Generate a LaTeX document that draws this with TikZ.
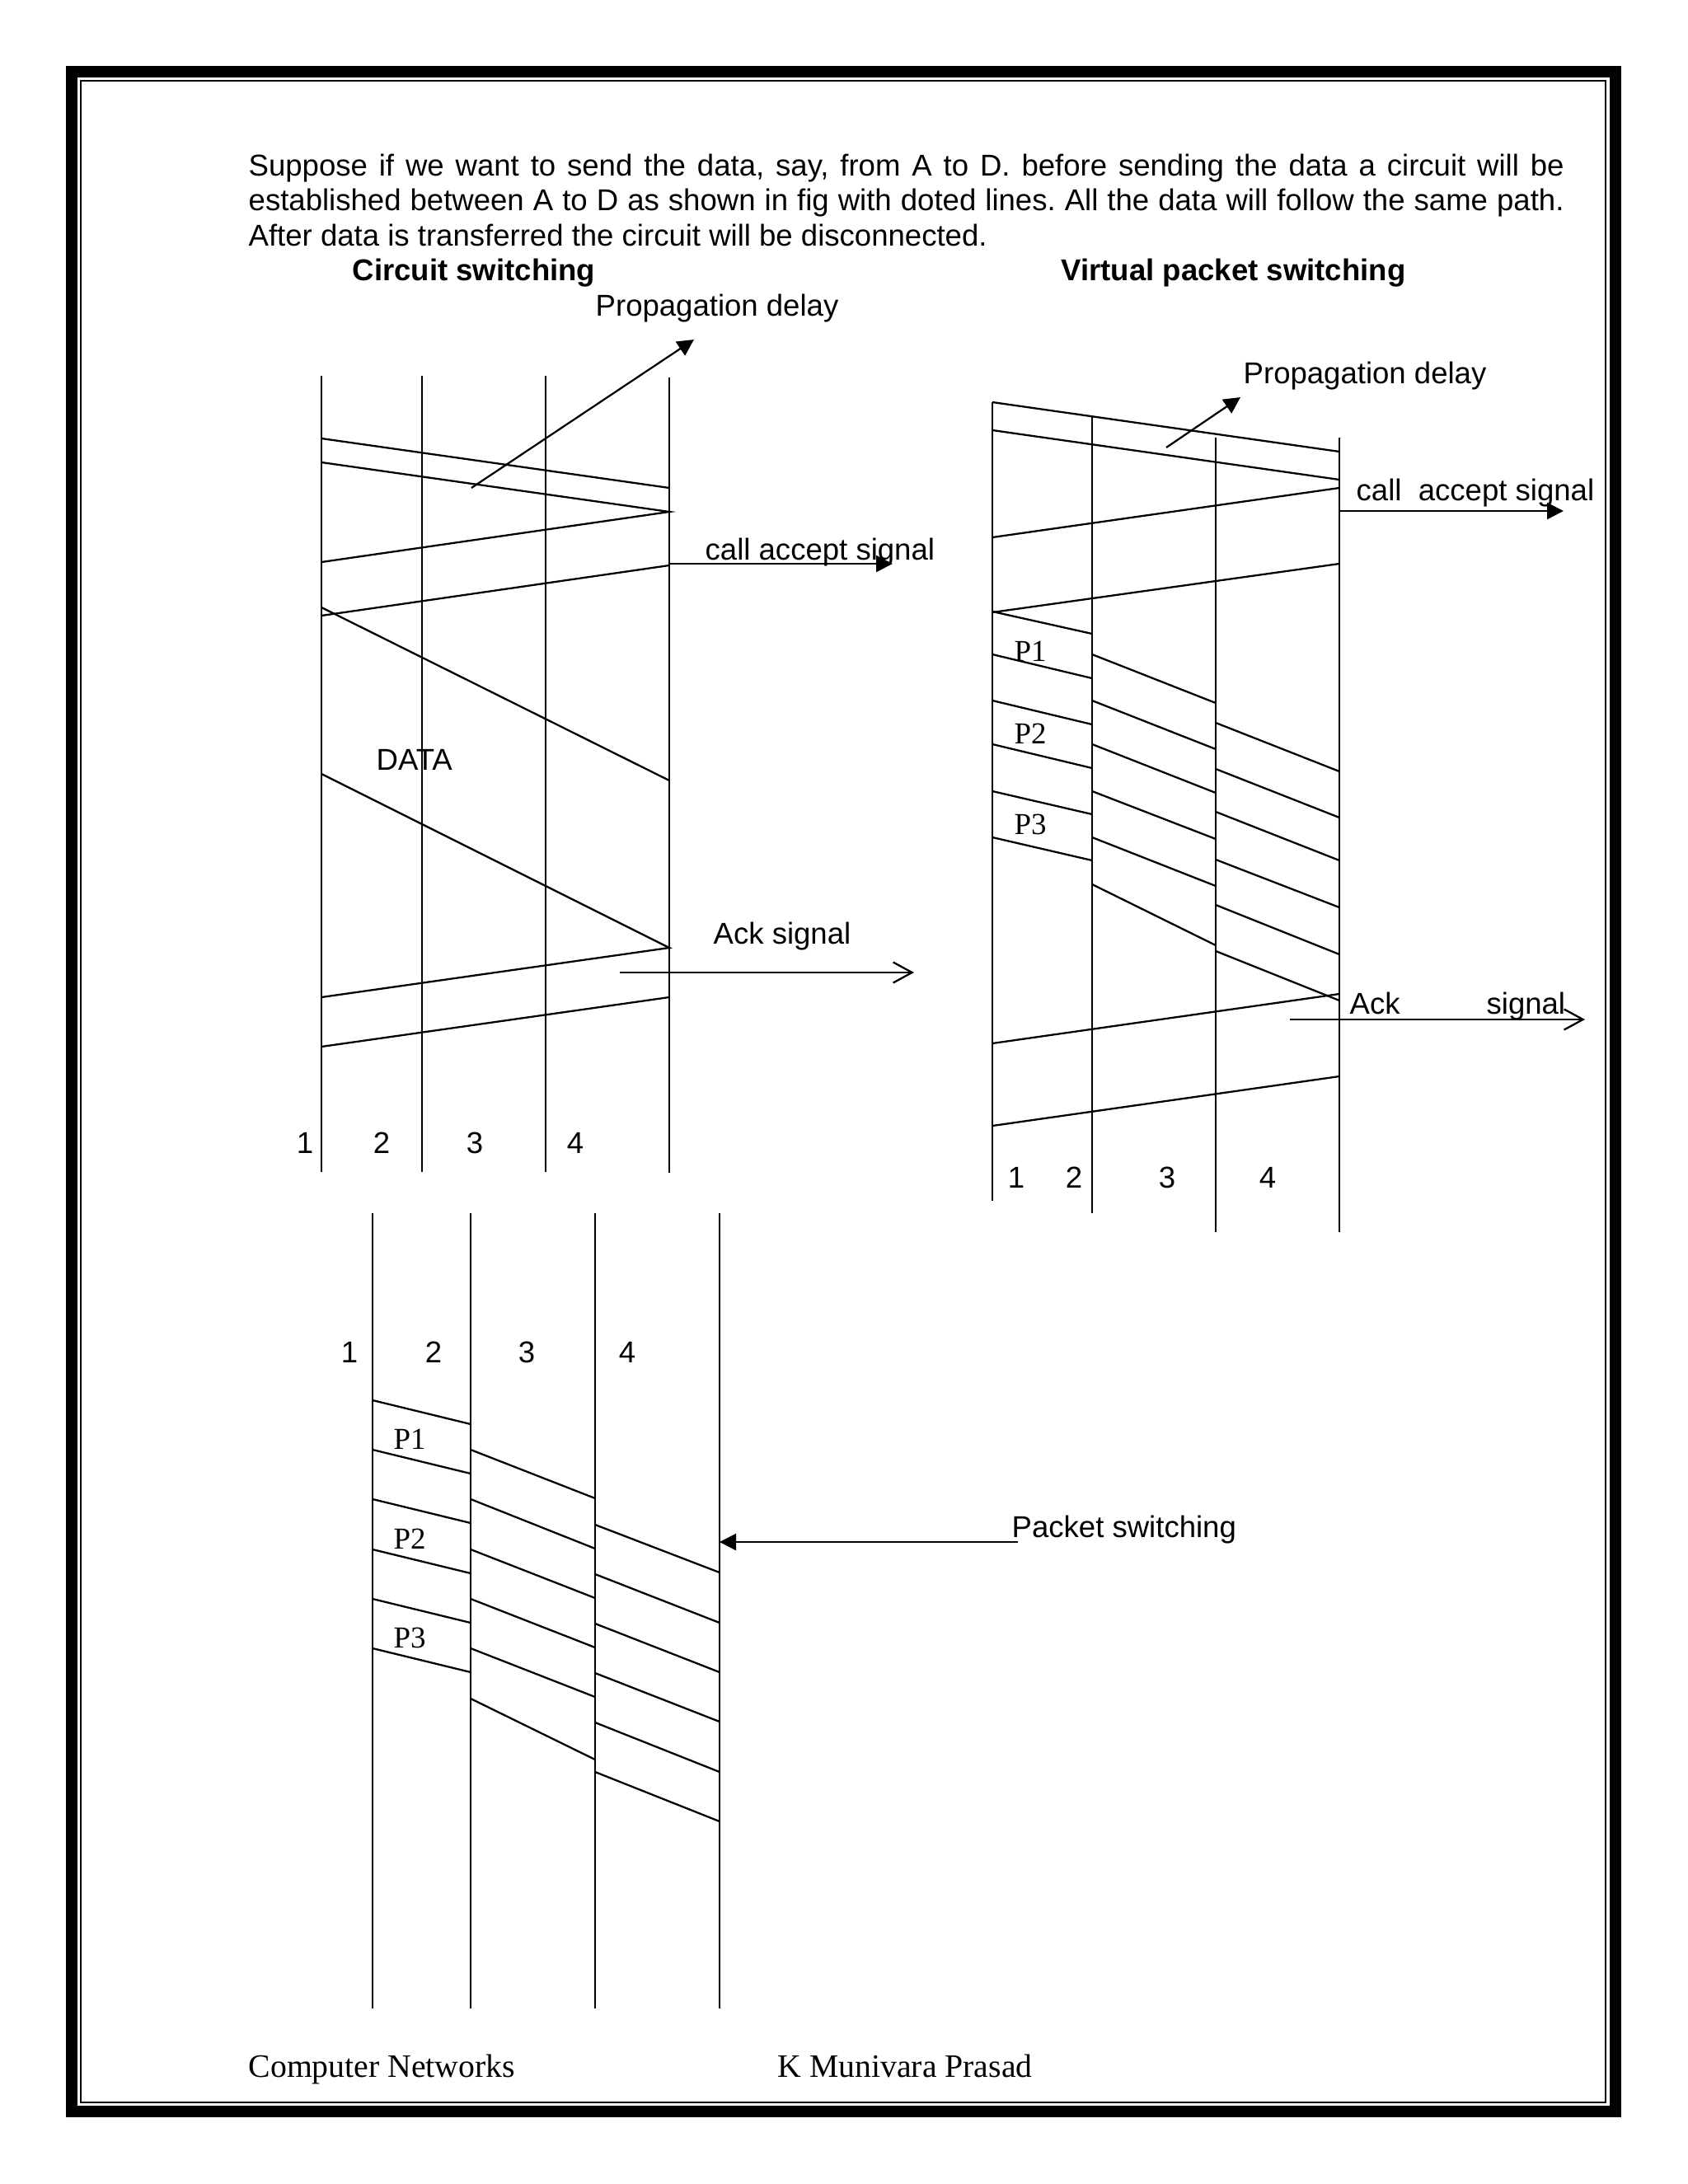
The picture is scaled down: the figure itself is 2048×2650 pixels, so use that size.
\documentclass[tikz,border=0pt]{standalone}
\usepackage{fontspec}
\setmainfont{Liberation Sans}
\newfontfamily\tmsfont{Liberation Serif}
\usepackage{tikz}
\usetikzlibrary{arrows.meta}
\hyphenpenalty=10000
\frenchspacing

\begin{document}
\begin{tikzpicture}[x=0.1mm, y=-0.1mm, font=\fontsize{10.4}{12.1}\selectfont,
  wire/.style={line width=0.45pt},
  sig/.style={line width=0.65pt},
  txt/.style={inner sep=0pt, anchor=base west},
  head/.style={txt, font=\fontsize{10.4}{12.1}\selectfont\bfseries},
  num/.style={inner sep=0pt, anchor=base},
  pkt/.style={inner sep=0pt, anchor=base west, font=\tmsfont\fontsize{10.5}{12}\selectfont},
  farr/.style={-{Triangle[length=2mm,width=2mm]}, line width=0.65pt},
  oarr/.style={-{Straight Barb[length=2.3mm,width=2.5mm]}, line width=0.65pt}]
  \useasboundingbox (0,0) rectangle (2048,2650);
  % page border
  \draw[line width=1.4mm] (87,87) rectangle (1960,2562);
  \draw[line width=0.25mm] (98,98) rectangle (1948,2551);

  \node[anchor=north west, inner sep=0pt, text width=159.6mm, align=justify] (intro) at (301,186)
    {Suppose if we want to send the data, say, from A to D. before sending the data a circuit will be\linebreak
     established between A to D as shown in fig with doted lines. All the data will follow the same path.\linebreak
     After data is transferred the circuit will be disconnected.};
  \node[head] (cshead) at (427,340) {Circuit switching};
  \node[head] (vphead) at (1287,340) {Virtual packet switching};

  % circuit switching
  \foreach \x/\t/\b in {390/456/1422, 512/456/1422, 662/456/1422, 812/458/1423}
    \draw[wire] (\x,\t) -- (\x,\b);
  \draw[sig] (390,532) -- (812,592) (390,561) -- (812,621) -- (390,682) (390,747) -- (812,686);
  \draw[sig] (390,737) -- (812,947) (390,939) -- (812,1150) -- (390,1210) (390,1270) -- (812,1210);
  \node[txt] (csprop) at (722,383) {Propagation delay};
  \node[txt] (csacc) at (855,679) {call accept signal};
  \node[txt] (csdata) at (456,934) {DATA};
  \node[txt] (csack) at (865,1145) {Ack signal};
  \coordinate (csp0) at (572,592);
  \coordinate (csp1) at (842,412);
  \coordinate (csa0) at (812,684);
  \coordinate (csa1) at (1083,684);
  \coordinate (csk0) at (752,1180);
  \coordinate (csk1) at (1109,1180);
  \draw[farr] (csp0) -- (csp1);
  \draw[farr] (csa0) -- (csa1);
  \draw[oarr] (csk0) -- (csk1);
  \foreach \x/\n in {370/1, 463/2, 576/3, 698/4}
    \node[num] (csn\n) at (\x,1399) {\n};

  % virtual packet switching
  \foreach \x/\t/\b in {1204/488/1457, 1325/506/1472, 1475/531/1495, 1625/531/1495}
    \draw[wire] (\x,\t) -- (\x,\b);
  \draw[sig] (1204,488) -- (1625,548) (1204,522) -- (1625,582) (1204,652) -- (1625,592) (1204,743) -- (1625,684);
  \foreach \a/\b in {742/769, 794/823, 850/879, 903/932, 960/988, 1016/1044}
    \draw[sig] (1204,\a) -- (1325,\b);
  \foreach \a/\b in {794/853, 850/909, 903/962, 960/1018, 1016/1075, 1073/1147}
    \draw[sig] (1325,\a) -- (1475,\b);
  \foreach \a/\b in {877/936, 933/992, 985/1044, 1043/1101, 1098/1158, 1154/1214}
    \draw[sig] (1475,\a) -- (1625,\b);
  \draw[sig] (1625,1206) -- (1204,1266) (1625,1306) -- (1204,1366);
  \node[txt] (vpprop) at (1508,465) {Propagation delay};
  \node[txt] (vpacc) at (1645,607) {call\ \ accept signal};
  \node[txt] (vpack) at (1637,1230) {Ack\hspace{10.5mm}signal};
  \node[pkt] (vpp1) at (1230,802) {P1};
  \node[pkt] (vpp2) at (1230,902) {P2};
  \node[pkt] (vpp3) at (1230,1012) {P3};
  \coordinate (vpp0) at (1415,543);
  \coordinate (vppe) at (1505,482);
  \coordinate (vpa0) at (1625,620);
  \coordinate (vpa1) at (1897,620);
  \coordinate (vpk0) at (1565,1237);
  \coordinate (vpk1) at (1923,1237);
  \draw[farr] (vpp0) -- (vppe);
  \draw[farr] (vpa0) -- (vpa1);
  \draw[oarr] (vpk0) -- (vpk1);
  \foreach \x/\n in {1233/1, 1303/2, 1416/3, 1538/4}
    \node[num] (vpn\n) at (\x,1441) {\n};

  % packet switching
  \foreach \x in {452, 571, 722, 873}
    \draw[wire] (\x,1472) -- (\x,2437);
  \foreach \a in {1699, 1759, 1819, 1880, 1940, 2000}
    \draw[sig] (452,\a) -- (571,\a+29);
  \foreach \a/\b in {1759/1818, 1819/1879, 1880/1939, 1940/1999, 2000/2059, 2061/2135}
    \draw[sig] (571,\a) -- (722,\b);
  \foreach \a/\b in {1850/1908, 1910/1969, 1970/2029, 2030/2089, 2090/2150, 2150/2210}
    \draw[sig] (722,\a) -- (873,\b);
  \foreach \x/\n in {424/1, 526/2, 639/3, 761/4}
    \node[num] (psn\n) at (\x,1653) {\n};
  \node[pkt] (psp1) at (477,1758) {P1};
  \node[pkt] (psp2) at (477,1879) {P2};
  \node[pkt] (psp3) at (477,1999) {P3};
  \node[txt] (pslbl) at (1227,1865) {Packet switching};
  \coordinate (ps0) at (1235,1871);
  \coordinate (ps1) at (873,1871);
  \draw[farr] (ps0) -- (ps1);

  % footer
  \node[txt, font=\tmsfont\fontsize{11.3}{13}\selectfont] (foot1) at (301,2520) {Computer Networks};
  \node[txt, font=\tmsfont\fontsize{11.3}{13}\selectfont] (foot2) at (943,2520) {K Munivara Prasad};
\end{tikzpicture}
\end{document}
